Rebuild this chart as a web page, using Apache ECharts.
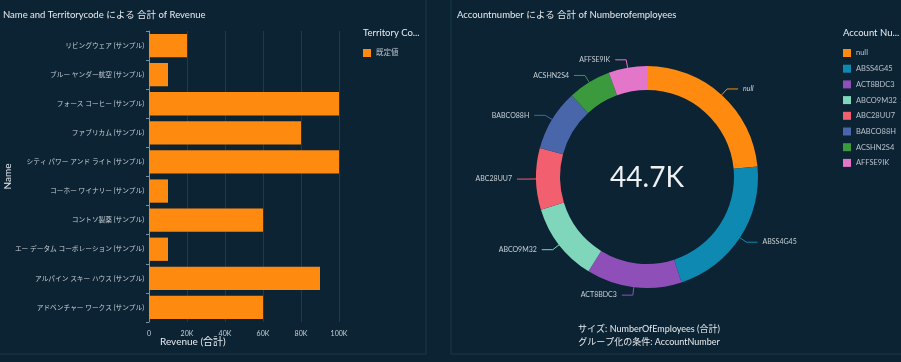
<!DOCTYPE html>
<html><head><meta charset="utf-8">
<script src="https://cdn.jsdelivr.net/npm/echarts@6/dist/echarts.min.js"></script>
<style>html,body{margin:0;padding:0;background:#0b2333;}#c{width:901px;height:362px;}</style>
</head><body><div id="c"></div>
<script>
var barCategories = ['リビングウェア (サンプル)','ブルー ヤンダー航空 (サンプル)','フォース コーヒー (サンプル)','ファブリカム (サンプル)','シティ パワー アンド ライト (サンプル)','コーホー ワイナリー (サンプル)','コントソ製薬 (サンプル)','エー データム コーポレーション (サンプル)','アルパイン スキー ハウス (サンプル)','アドベンチャー ワークス (サンプル)'];
var revenueValues = [20000,10000,100000,80000,100000,10000,60000,10000,90000,60000];
var barSeriesName = '既定値';
var accountNumbers = ['null','ABSS4G45','ACT8BDC3','ABCO9M32','ABC28UU7','BABCO88H','ACSHN2S4','AFFSE9IK'];
var employeeValues = [10500,9600,6200,5100,4000,4000,2800,2500];
var pieColors = ['#fe8a10','#0e89b2','#8e50b8','#7fd6bb','#f25f6e','#4a66aa','#3b993e','#e376c9'];
var totalLabel = '44.7K';

var FONT = "Lato, 'Noto Sans CJK JP', sans-serif";
var chart = echarts.init(document.getElementById('c'));
var pieData = accountNumbers.map(function(n,i){return {name:n,value:employeeValues[i],itemStyle:{color:pieColors[i]},label:{fontStyle: n==='null'?'italic':'normal'}};});
var tstyle = {color:'#e8ecef',fontSize:9.5,fontWeight:'normal',fontFamily:FONT};
chart.setOption({
  backgroundColor:'#0b2333',
  textStyle:{fontFamily:FONT},
  animation:false,
  title:[
    {text:'Name and Territorycode による 合計 of Revenue',left:3,top:10,padding:0,textStyle:tstyle},
    {text:'Accountnumber による 合計 of Numberofemployees',left:457,top:10,padding:0,textStyle:tstyle},
    {text:'Territory Co...',left:363,top:28,padding:0,textStyle:tstyle},
    {text:'Account Nu...',left:843,top:28,padding:0,textStyle:tstyle}
  ],
  legend:[
    {data:[barSeriesName],left:363,top:49,padding:0,itemWidth:8,itemHeight:8,icon:'rect',textStyle:{color:'#b9c2ca',fontSize:7.5,fontFamily:FONT},selectedMode:false},
    {data:accountNumbers,orient:'vertical',left:843,top:49,padding:0,itemWidth:8,itemHeight:8,itemGap:7.7,icon:'rect',textStyle:{color:'#b9c2ca',fontSize:7.5,fontFamily:FONT},selectedMode:false}
  ],
  grid:{left:149,right:562,top:31,bottom:40,outerBoundsMode:'none',containLabel:false},
  xAxis:{type:'value',min:0,max:100000,interval:20000,
    axisLabel:{color:'#c9d0d6',fontSize:7,formatter:function(v){return v===0?'0':(v/1000)+'K';}},
    axisLine:{show:false},axisTick:{show:false},
    splitLine:{show:true,lineStyle:{color:'#1f3a4c',width:1}}},
  yAxis:{type:'category',inverse:true,data:barCategories,
    name:'Name',nameLocation:'middle',nameGap:136,nameMoveOverlap:false,nameTextStyle:{color:'#e8ecef',fontSize:10,fontFamily:FONT},
    axisLabel:{color:'#c9d0d6',fontSize:6.7,margin:5},
    axisLine:{show:true,lineStyle:{color:'#7e8d98'}},
    axisTick:{show:true,length:3,lineStyle:{color:'#7e8d98'}}},
  series:[
    {type:'bar',name:barSeriesName,data:revenueValues,barCategoryGap:'20%',
      itemStyle:{color:'#fe8a10'}},
    {type:'pie',name:'Employees',center:[647,177],radius:[87,111],data:pieData,startAngle:90,clockwise:true,
      label:{color:'#c9d0d6',fontSize:7,fontFamily:FONT},
      labelLine:{length:8,length2:11,lineStyle:{width:1}},
      itemStyle:{borderWidth:0}}
  ],
  graphic:[
    {type:'rect',shape:{x:-1,y:-1,width:427,height:355},style:{fill:'none',stroke:'#1d3949',lineWidth:1},silent:true},
    {type:'rect',shape:{x:451,y:-1,width:452,height:355},style:{fill:'none',stroke:'#1d3949',lineWidth:1},silent:true},
    {type:'text',x:160,y:337,style:{text:'Revenue (合計)',fill:'#e8ecef',font:'10px '+FONT}},
    {type:'text',x:647,y:178,style:{text:totalLabel,fill:'#eef1f3',font:'28px '+FONT,textAlign:'center',textVerticalAlign:'middle'}},
    {type:'text',x:649,y:329,style:{text:'サイズ: NumberOfEmployees (合計)',fill:'#e8ecef',font:'9px '+FONT,textAlign:'center',textVerticalAlign:'middle'}},
    {type:'text',x:649,y:342,style:{text:'グループ化の条件: AccountNumber',fill:'#e8ecef',font:'9px '+FONT,textAlign:'center',textVerticalAlign:'middle'}}
  ]
});
</script></body></html>
